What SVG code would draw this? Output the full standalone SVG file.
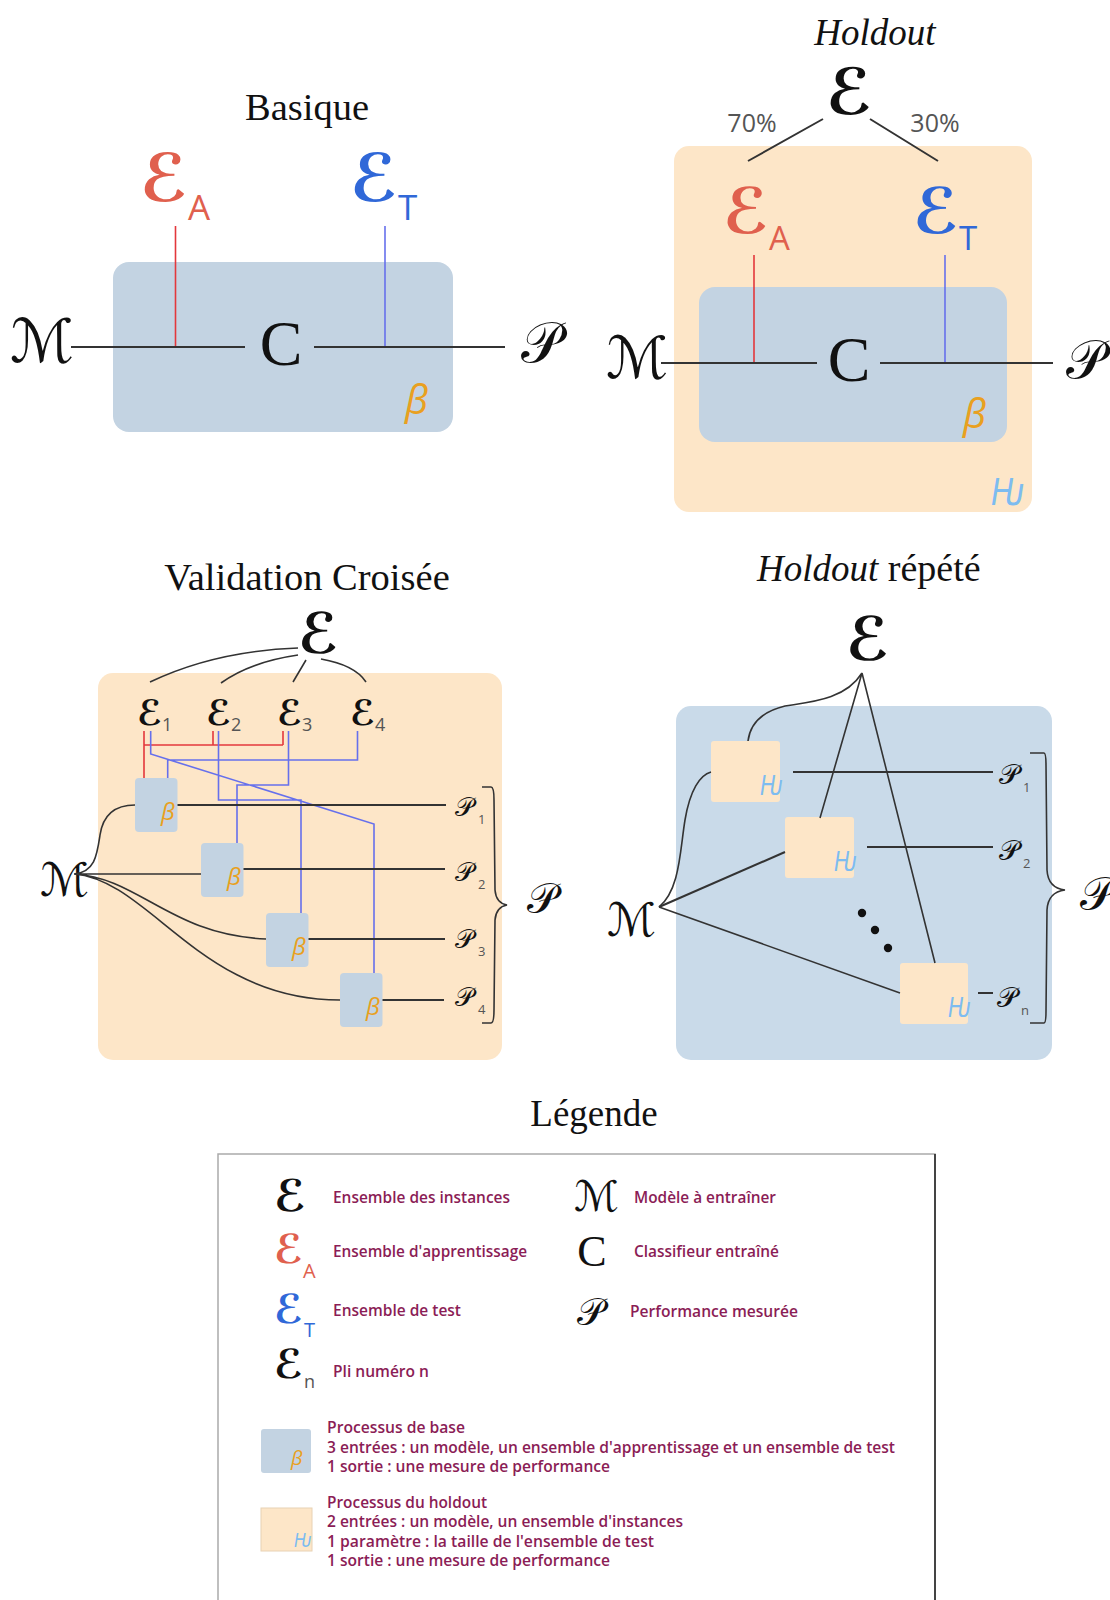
<svg xmlns="http://www.w3.org/2000/svg" width="1110" height="1600" viewBox="0 0 1110 1600">
<style>
.serif{font-family:"Liberation Serif","DejaVu Serif",serif;fill:#111}
.scr{font-family:"DejaVu Sans","DejaVu Serif",serif;fill:#111}
.bold{font-weight:bold}
.sans{font-family:"Open Sans","Noto Sans",sans-serif}
.sub{font-family:"Open Sans","Noto Sans",sans-serif;fill:#555}
.leg{font-family:"Open Sans","Noto Sans",sans-serif;font-weight:600;fill:#8b1d56}
.ln{stroke:#333;stroke-width:2;fill:none}
.thin{stroke:#333;stroke-width:1.6;fill:none}
.red{stroke:#e3383c;stroke-width:1.6;fill:none}
.blue{stroke:#6670ec;stroke-width:1.6;fill:none}
.bbox{fill:#c3d3e2}
.obox{fill:#fde6c8}
.hbox{fill:#c9dae9}
.beta{font-family:"Open Sans","Noto Sans",sans-serif;font-style:italic;fill:#e9a020}
.hs{font-family:"DejaVu Sans","Open Sans",sans-serif;font-style:italic;fill:#7dbcf0}
.ea{fill:#e0604e}
.et{fill:#3068d8}
</style>
<rect width="1110" height="1600" fill="#fff"/>

<!-- ===== Basique ===== -->
<g id="basique">
<text class="serif" x="307" y="120" font-size="38.5" text-anchor="middle">Basique</text>
<rect class="bbox" x="113" y="262" width="340" height="170" rx="16"/>
<g id="b-ea"><text class="scr bold ea" x="140" y="201" font-size="66">ℰ</text><text class="sans ea" x="188" y="220" font-size="35">A</text></g>
<g id="b-et"><text class="scr bold et" x="350" y="201" font-size="66">ℰ</text><text class="sans et" x="398" y="220" font-size="35">T</text></g>
<text id="b-c" class="serif" x="281" y="365" font-size="64" text-anchor="middle">C</text>
<text id="b-m" class="scr" x="10" y="362" font-size="60">ℳ</text>
<text id="b-p" class="scr" x="521" y="362" font-size="56">𝒫</text>
<text class="beta" x="405" y="414" font-size="40">β</text>
</g>

<!-- ===== Holdout ===== -->
<g id="holdout">
<text class="serif" x="875" y="45" font-size="37" font-style="italic" text-anchor="middle">Holdout</text>
<rect class="obox" x="674" y="146" width="358" height="366" rx="15"/>
<rect class="bbox" x="699" y="287" width="308" height="155" rx="16"/>
<text id="h-e" class="scr bold" x="826" y="114" font-size="64">ℰ</text>
<text class="sans" x="752" y="132" font-size="25" fill="#555" text-anchor="middle">70%</text>
<text class="sans" x="935" y="132" font-size="25" fill="#555" text-anchor="middle">30%</text>
<g id="h-ea"><text class="scr bold ea" x="723" y="233" font-size="63">ℰ</text><text class="sans ea" x="769" y="250" font-size="33">A</text></g>
<g id="h-et"><text class="scr bold et" x="913" y="233" font-size="63">ℰ</text><text class="sans et" x="959" y="250" font-size="33">T</text></g>
<text id="h-c" class="serif" x="849" y="381" font-size="64" text-anchor="middle">C</text>
<text id="h-m" class="scr" x="606" y="378" font-size="58">ℳ</text>
<text id="h-p" class="scr" x="1066" y="378" font-size="54">𝒫</text>
<text class="beta" x="963" y="428" font-size="40">β</text>
<text class="hs" transform="translate(991,505) scale(0.8,1)" font-size="38">Ƕ</text>
</g>

<!-- ===== Validation croisee ===== -->
<g id="cv">
<text class="serif" x="307" y="590" font-size="38.5" text-anchor="middle">Validation Croisée</text>
<rect class="obox" x="98" y="673" width="404" height="387" rx="15"/>
<text id="cv-e" class="scr bold" x="298" y="653" font-size="56">ℰ</text>
<g id="cv-e1"><text class="scr bold" x="137" y="725" font-size="35">ℰ</text><text class="sub" x="162" y="731" font-size="18">1</text></g>
<g id="cv-e2"><text class="scr bold" x="206" y="725" font-size="35">ℰ</text><text class="sub" x="231" y="731" font-size="18">2</text></g>
<g id="cv-e3"><text class="scr bold" x="277" y="725" font-size="35">ℰ</text><text class="sub" x="302" y="731" font-size="18">3</text></g>
<g id="cv-e4"><text class="scr bold" x="350" y="725" font-size="35">ℰ</text><text class="sub" x="375" y="731" font-size="18">4</text></g>
<g id="cv-b1"><rect class="bbox" x="135" y="778" width="42.5" height="54" rx="4"/><text class="beta" x="161" y="820" font-size="24">β</text></g>
<g id="cv-b2"><rect class="bbox" x="201" y="843" width="42.5" height="54" rx="4"/><text class="beta" x="227" y="885" font-size="24">β</text></g>
<g id="cv-b3"><rect class="bbox" x="266" y="913" width="42.5" height="54" rx="4"/><text class="beta" x="292" y="955" font-size="24">β</text></g>
<g id="cv-b4"><rect class="bbox" x="340" y="973" width="42.5" height="54" rx="4"/><text class="beta" x="366" y="1015" font-size="24">β</text></g>
<g id="cv-p1"><text class="scr" x="455" y="816" font-size="26">𝒫</text><text class="sub" x="478" y="824" font-size="13">1</text></g>
<g id="cv-p2"><text class="scr" x="455" y="881" font-size="26">𝒫</text><text class="sub" x="478" y="889" font-size="13">2</text></g>
<g id="cv-p3"><text class="scr" x="455" y="948" font-size="26">𝒫</text><text class="sub" x="478" y="956" font-size="13">3</text></g>
<g id="cv-p4"><text class="scr" x="455" y="1006" font-size="26">𝒫</text><text class="sub" x="478" y="1014" font-size="13">4</text></g>
<text id="cv-p" class="scr" x="527" y="913" font-size="42">𝒫</text>
<text id="cv-m" class="scr" x="40" y="896" font-size="46">ℳ</text>
</g>

<!-- ===== Holdout repete ===== -->
<g id="hr">
<text class="serif" x="757" y="581" font-size="38"><tspan font-style="italic" font-size="37">Holdout</tspan> répété</text>
<rect class="hbox" x="676" y="706" width="376" height="354" rx="15"/>
<text id="hr-e" class="scr bold" x="846" y="660" font-size="60">ℰ</text>
<g id="hr-h1"><rect class="obox" x="711" y="741" width="69" height="61" rx="3"/><text class="hs" transform="translate(760,795) scale(0.8,1)" font-size="26">Ƕ</text></g>
<g id="hr-h2"><rect class="obox" x="785" y="817" width="69" height="61" rx="3"/><text class="hs" transform="translate(834,871) scale(0.8,1)" font-size="26">Ƕ</text></g>
<g id="hr-hn"><rect class="obox" x="900" y="963" width="68" height="61" rx="3"/><text class="hs" transform="translate(948,1017) scale(0.8,1)" font-size="26">Ƕ</text></g>
<text id="hr-m" class="scr" x="607" y="936" font-size="46">ℳ</text>
<g id="hr-p1"><text class="scr" x="999" y="784" font-size="28">𝒫</text><text class="sub" x="1023" y="792" font-size="13">1</text></g>
<g id="hr-p2"><text class="scr" x="999" y="860" font-size="28">𝒫</text><text class="sub" x="1023" y="868" font-size="13">2</text></g>
<g id="hr-pn"><text class="scr" x="997" y="1007" font-size="28">𝒫</text><text class="sub" x="1021" y="1015" font-size="13">n</text></g>
<text id="hr-p" class="scr" x="1080" y="910" font-size="46">𝒫</text>
<circle cx="862" cy="913" r="4.2" fill="#111"/>
<circle cx="875" cy="930" r="4.2" fill="#111"/>
<circle cx="888" cy="948" r="4.2" fill="#111"/>
</g>

<!-- ===== Connectors ===== -->
<g id="connectors">
<!-- Basique -->
<path class="red" d="M175.5,226 V347"/>
<path class="blue" d="M385,226 V347"/>
<path class="ln" d="M71,347 H245 M314,347 H505"/>
<!-- Holdout -->
<path class="ln" d="M823,119 L748,161 M870,119 L938,161"/>
<path class="red" d="M754,255 V363"/>
<path class="blue" d="M945,255 V363"/>
<path class="ln" d="M661,363 H817 M880,363 H1053"/>
<!-- CV -->
<path class="thin" d="M150,682 Q215,651 298,648 M221,683 Q250,662 298,655 M293,682 L306,660 M321,659 Q355,665 366,682"/>
<path class="red" d="M144,731 V778 M213,731 V745 M283,731 V745 M144,745 H283"/>
<path class="blue" d="M150.7,731 V754 L374,824 V973 M357.5,731 V760 H167.7 V778 M288.5,731 V785 H237 V843 M218.5,731 V800 H301 V913"/>
<path class="ln" d="M177.5,805 H446 M243.5,869 H445 M308.5,939 H445 M382.5,1000 H444"/>
<path class="thin" d="M74,874 C95,872 97,855 100,835 C103,815 115,805 135,805 M74,874 H201 M74,874 C140,878 170,935 266,939 M74,874 C150,880 200,1000 340,1000"/>
<path class="thin" d="M482,787 H491 Q494,787 494,800 L495,890 Q496,903 507,905 Q496,907 495,920 L494,1010 Q494,1023 491,1023 H482"/>
<!-- Holdout repete -->
<path class="thin" d="M862,673 C845,700 810,702 785,706 C760,712 750,725 748,741 M862,673 L820,818 M862,673 L935,963"/>
<path class="thin" d="M659,907 C680,890 680,850 685,820 C690,790 700,775 711,772"/>
<path class="ln" d="M659,907 L785,852"/>
<path class="thin" d="M659,907 L900,993"/>
<path class="ln" d="M793,772 H993 M867,847 H993 M978,993 H993"/>
<path class="thin" d="M1030,753 H1044 Q1046,753 1046,765 L1047,870 Q1048,888 1065,890 Q1048,892 1047,910 L1046,1011 Q1046,1023 1044,1023 H1030"/>
</g>

<!-- ===== Legend ===== -->
<g id="legend">
<text class="serif" x="594" y="1126" font-size="37" text-anchor="middle">Légende</text>
<rect x="218" y="1154" width="717" height="470" fill="#fff" stroke="#aaa" stroke-width="1.5"/>
<line x1="935" y1="1154" x2="935" y2="1600" stroke="#444" stroke-width="2"/>
<text class="scr bold" x="274" y="1211" font-size="44">ℰ</text>
<text class="leg" x="333" y="1203" font-size="17" textLength="177" lengthAdjust="spacingAndGlyphs">Ensemble des instances</text>
<text class="scr bold ea" x="274" y="1263" font-size="40">ℰ</text><text class="sans ea" x="303" y="1278" font-size="20">A</text>
<text class="leg" x="333" y="1257" font-size="17" textLength="194" lengthAdjust="spacingAndGlyphs">Ensemble d'apprentissage</text>
<text class="scr bold et" x="274" y="1323" font-size="40">ℰ</text><text class="sans et" x="304" y="1337" font-size="20">T</text>
<text class="leg" x="333" y="1316" font-size="17" textLength="128" lengthAdjust="spacingAndGlyphs">Ensemble de test</text>
<text class="scr bold" x="274" y="1378" font-size="40">ℰ</text><text class="sub" x="304" y="1388" font-size="18">n</text>
<text class="leg" x="333" y="1377" font-size="17" textLength="96" lengthAdjust="spacingAndGlyphs">Pli numéro n</text>
<text class="scr" x="574" y="1211" font-size="42">ℳ</text>
<text class="leg" x="634" y="1203" font-size="17" textLength="142" lengthAdjust="spacingAndGlyphs">Modèle à entraîner</text>
<text class="serif" x="592" y="1266" font-size="44" text-anchor="middle">C</text>
<text class="leg" x="634" y="1257" font-size="17" textLength="145" lengthAdjust="spacingAndGlyphs">Classifieur entraîné</text>
<text class="scr" x="577" y="1325" font-size="38">𝒫</text>
<text class="leg" x="630" y="1317" font-size="17" textLength="168" lengthAdjust="spacingAndGlyphs">Performance mesurée</text>
<rect class="bbox" x="261" y="1429" width="50" height="44" rx="3"/>
<text class="beta" x="291" y="1465" font-size="20">β</text>
<text class="leg" x="327" y="1433" font-size="16" textLength="138" lengthAdjust="spacingAndGlyphs">Processus de base</text>
<text class="leg" x="327" y="1453" font-size="16" textLength="568" lengthAdjust="spacingAndGlyphs">3 entrées : un modèle, un ensemble d'apprentissage et un ensemble de test</text>
<text class="leg" x="327" y="1472" font-size="16" textLength="283" lengthAdjust="spacingAndGlyphs">1 sortie : une mesure de performance</text>
<rect class="obox" x="261" y="1508" width="51" height="43" stroke="#e8d2b4" stroke-width="1"/>
<text class="hs" transform="translate(294,1547) scale(0.8,1)" font-size="20">Ƕ</text>
<text class="leg" x="327" y="1508" font-size="16" textLength="160" lengthAdjust="spacingAndGlyphs">Processus du holdout</text>
<text class="leg" x="327" y="1527" font-size="16" textLength="356" lengthAdjust="spacingAndGlyphs">2 entrées : un modèle, un ensemble d'instances</text>
<text class="leg" x="327" y="1547" font-size="16" textLength="327" lengthAdjust="spacingAndGlyphs">1 paramètre :  la taille de l'ensemble de test</text>
<text class="leg" x="327" y="1566" font-size="16" textLength="283" lengthAdjust="spacingAndGlyphs">1 sortie : une mesure de performance</text>
</g>
</svg>
